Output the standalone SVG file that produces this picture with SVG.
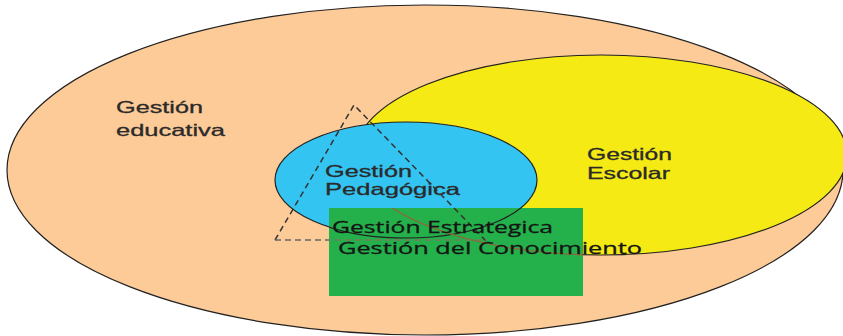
<svg xmlns="http://www.w3.org/2000/svg" width="843" height="336" viewBox="0 0 843 336">
<style>
.lbl{font-family:"Liberation Sans",Arial,sans-serif;font-size:16.5px;fill:#2a2a2a;stroke:#2a2a2a;stroke-width:0.3}
.gt{font-family:"Open Sans","Liberation Sans",sans-serif;font-size:16.5px;fill:#141414;stroke:#141414;stroke-width:0.3}
.edge{stroke:#222;stroke-width:1.2}
.line{fill:none;stroke:#222;stroke-width:1.2}
.tri{fill:none;stroke:#333;stroke-width:1.5;stroke-dasharray:6 4}
</style>
<defs>
<clipPath id="gclip"><rect x="329" y="208" width="254" height="88"/></clipPath>
</defs>
<rect x="0" y="0" width="843" height="336" fill="#ffffff"/>
<g id="gestion-educativa">
<ellipse cx="425" cy="170" rx="418" ry="165" fill="#FDCB98" class="edge"/>
<text class="lbl" x="116" y="113" textLength="87" lengthAdjust="spacingAndGlyphs">Gestión</text>
<text class="lbl" x="116" y="136" textLength="109" lengthAdjust="spacingAndGlyphs">educativa</text>
</g>
<g id="gestion-escolar">
<ellipse cx="601" cy="155" rx="246" ry="100" fill="#F5EA14" class="edge"/>
<text class="lbl" x="587" y="160" textLength="85" lengthAdjust="spacingAndGlyphs">Gestión</text>
<text class="lbl" x="587" y="179" textLength="83" lengthAdjust="spacingAndGlyphs">Escolar</text>
</g>
<g id="gestion-pedagogica">
<ellipse cx="406" cy="180" rx="131" ry="58" fill="#33C4F2" class="edge"/>
<text class="lbl" x="325" y="177" textLength="87" lengthAdjust="spacingAndGlyphs">Gestión</text>
<text class="lbl" x="325" y="195" textLength="135" lengthAdjust="spacingAndGlyphs">Pedagógica</text>
</g>
<g id="triangulo">
<polyline class="tri" points="275,240 354,105 487,242"/>
<line x1="275" y1="240" x2="487" y2="240" stroke="#666" stroke-width="1.5" stroke-dasharray="6 4"/>
</g>
<g id="gestion-estrategica">
<rect x="329" y="208" width="254" height="88" fill="#24B04B"/>
<g clip-path="url(#gclip)">
<ellipse cx="406" cy="180" rx="131" ry="58" class="line"/>
<ellipse cx="601" cy="155" rx="246" ry="100" fill="none" stroke="#8a6a3a" stroke-width="1.3"/>
<polyline class="tri" points="275,240 354,105 487,242"/>
<line x1="275" y1="240" x2="487" y2="240" stroke="#7a7a5a" stroke-width="1.5" stroke-dasharray="6 4"/>
</g>
<text class="gt" x="332" y="233" textLength="221" lengthAdjust="spacingAndGlyphs">Gestión Estrategica</text>
<text class="gt" x="338" y="254" textLength="304" lengthAdjust="spacingAndGlyphs">Gestión del Conocimiento</text>
</g>
<g id="connectors"></g>
</svg>
